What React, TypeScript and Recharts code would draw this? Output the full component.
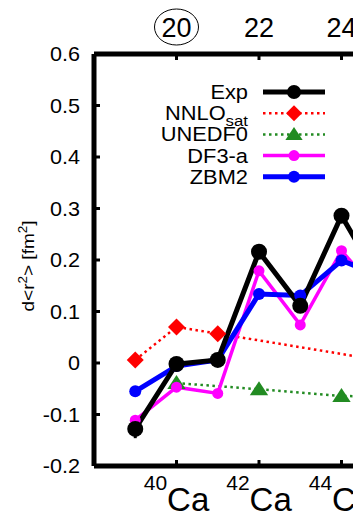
import React from "react";
import {
  LineChart,
  Line,
  XAxis,
  YAxis,
  ErrorBar,
  Legend,
} from "recharts";

const FONT = "'Liberation Sans', Arial, sans-serif";

// neutron number N of the Ca isotopes (last entries continue past the crop)
const neutrons = [19, 20, 21, 22, 23, 24, 25, 28];
const expVals = [-0.128, -0.002, 0.006, 0.216, 0.111, 0.286, 0.148, null];
const expErr = [0.018, 0.005, 0.005, 0.006, 0.006, 0.007, 0.007, null];
const nnloVals = [0.006, 0.07, 0.057, null, null, null, null, -0.035];
const unedfVals = [null, -0.039, null, -0.051, null, -0.064, null, -0.07];
const df3aVals = [-0.111, -0.047, -0.059, 0.179, 0.074, 0.218, 0.127, null];
const zbm2Vals = [-0.055, -0.006, 0.006, 0.134, 0.131, 0.199, 0.168, null];

const topTicks = [20, 22, 24];
const bottomTicks = [20, 22, 24];
const massLabels: Record<number, string> = { 20: "40", 22: "42", 24: "44" };
const yTicks = [-0.2, -0.1, 0, 0.1, 0.2, 0.3, 0.4, 0.5, 0.6];

const data = neutrons.map((n, i) => ({
  n,
  exp: expVals[i],
  expErr: expErr[i],
  nnlo: nnloVals[i],
  unedf: unedfVals[i],
  df3a: df3aVals[i],
  zbm2: zbm2Vals[i],
}));

const diamond = (cx: number, cy: number, s: number, color: string, key?: any) => (
  <path key={key} d={`M${cx},${cy - s}L${cx + s},${cy}L${cx},${cy + s}L${cx - s},${cy}Z`} fill={color} />
);
const triangle = (cx: number, cy: number, s: number, color: string, key?: any) => (
  <path key={key} d={`M${cx},${cy - s}L${cx + s * 1.15},${cy + s * 0.75}L${cx - s * 1.15},${cy + s * 0.75}Z`} fill={color} />
);

const dotFn = (kind: string, color: string, size: number) => (p: any) => {
  const { cx, cy, index } = p;
  if (cx == null || cy == null || p.value == null) return <g key={`d-${index}`} />;
  if (kind === "diamond") return diamond(cx, cy, size, color, `d-${index}`);
  if (kind === "triangle") return triangle(cx, cy, size, color, `d-${index}`);
  return <circle key={`d-${index}`} cx={cx} cy={cy} r={size} fill={color} />;
};

const YTick = (props: any) => {
  const { y, payload } = props;
  const v = Math.round(payload.value * 10) / 10;
  return (
    <text
      transform={`translate(80,${y}) scale(1.08,1)`}
      textAnchor="end"
      dy="0.36em"
      fontSize={20}
      fontFamily={FONT}
      fill="#000"
    >
      {String(v)}
    </text>
  );
};

const TopTick = (props: any) => {
  const { x, payload } = props;
  return (
    <g>
      <text x={x} y={37} textAnchor="middle" fontSize={27} fontFamily={FONT} fill="#000">
        {payload.value}
      </text>
      {payload.value === 20 && (
        <ellipse cx={x} cy={27} rx={22} ry={18} fill="none" stroke="#000" strokeWidth={1} />
      )}
    </g>
  );
};

const BottomTick = (props: any) => {
  const { x, payload } = props;
  return (
    <text x={x} y={511} textAnchor="middle" fontFamily={FONT} fill="#000">
      <tspan fontSize={21} dy={-21}>{massLabels[payload.value]}</tspan>
      <tspan fontSize={33} dy={21}>Ca</tspan>
    </text>
  );
};

const legendRows = [
  { label: "Exp", color: "#000", width: 5, dash: undefined, kind: "circle", size: 7 },
  { label: "NNLO", sub: "sat", color: "#ff0000", width: 2.5, dash: "2.5 3.5", kind: "diamond", size: 8 },
  { label: "UNEDF0", color: "#228B22", width: 2.5, dash: "2.5 3.5", kind: "triangle", size: 7.5 },
  { label: "DF3-a", color: "#ff00ff", width: 3.5, dash: undefined, kind: "circle", size: 5.5 },
  { label: "ZBM2", color: "#0000ff", width: 5, dash: undefined, kind: "circle", size: 6 },
];

const renderLegend = () => (
  <svg width={353} height={200} style={{ display: "block" }}>
    {legendRows.map((r, i) => {
      const y = 92 + i * 21.2;
      return (
        <g key={r.label}>
          <text
            transform={`translate(248,${y}) scale(1.12,1)`}
            textAnchor="end"
            dy="0.36em"
            fontSize={19.5}
            fontFamily={FONT}
            fill="#000"
          >
            {r.label}
            {r.sub && (
              <tspan fontSize={15} dy={6}>
                {r.sub}
              </tspan>
            )}
          </text>
          <line x1={263} x2={325} y1={y} y2={y} stroke={r.color} strokeWidth={r.width} strokeDasharray={r.dash} />
          {r.kind === "diamond"
            ? diamond(294, y, r.size, r.color)
            : r.kind === "triangle"
            ? triangle(294, y, r.size, r.color)
            : <circle cx={294} cy={y} r={r.size} fill={r.color} />}
        </g>
      );
    })}
  </svg>
);

export default function App() {
  return (
    <div
      style={{
        position: "fixed",
        left: 0,
        top: 0,
        width: 353,
        height: 517,
        overflow: "hidden",
        background: "#fff",
      }}
    >
      <LineChart width={600} height={517} data={data} margin={{ top: 0, right: 11, bottom: 0, left: 0 }}>
        <XAxis
          dataKey="n"
          type="number"
          domain={[18, 30]}
          ticks={bottomTicks}
          height={51}
          axisLine={{ stroke: "#000", strokeWidth: 5 }}
          tickLine={{ stroke: "#000", strokeWidth: 3 }}
          tickSize={-6}
          tick={<BottomTick />}
          interval={0}
        />
        <XAxis
          xAxisId="top"
          orientation="top"
          dataKey="n"
          type="number"
          domain={[18, 30]}
          ticks={topTicks}
          height={54}
          axisLine={{ stroke: "#000", strokeWidth: 5 }}
          tickLine={{ stroke: "#000", strokeWidth: 3 }}
          tickSize={-6}
          tick={<TopTick />}
          interval={0}
        />
        <YAxis
          type="number"
          domain={[-0.2, 0.6]}
          ticks={yTicks}
          width={94}
          axisLine={{ stroke: "#000", strokeWidth: 5 }}
          tickLine={{ stroke: "#000", strokeWidth: 3 }}
          tickSize={-6}
          tick={<YTick />}
          interval={0}
          label={{
            value: "",
          }}
        />
        <Legend
          layout="horizontal"
          verticalAlign="middle"
          align="center"
          wrapperStyle={{ position: "absolute", top: 0, left: 0, width: 353, height: 200, pointerEvents: "none" }}
          content={renderLegend}
        />
        <Line
          dataKey="nnlo"
          stroke="#ff0000"
          strokeWidth={2.5}
          strokeDasharray="2.5 3.5"
          connectNulls
          dot={dotFn("diamond", "#ff0000", 8.5)}
          isAnimationActive={false}
        />
        <Line
          dataKey="unedf"
          stroke="#228B22"
          strokeWidth={2.5}
          strokeDasharray="2.5 3.5"
          connectNulls
          dot={dotFn("triangle", "#228B22", 8)}
          isAnimationActive={false}
        />
        <Line
          dataKey="df3a"
          stroke="#ff00ff"
          strokeWidth={3.5}
          connectNulls
          dot={dotFn("circle", "#ff00ff", 5.5)}
          isAnimationActive={false}
        />
        <Line
          dataKey="zbm2"
          stroke="#0000ff"
          strokeWidth={5}
          connectNulls
          dot={dotFn("circle", "#0000ff", 6)}
          isAnimationActive={false}
        />
        <Line
          dataKey="exp"
          stroke="#000"
          strokeWidth={5}
          connectNulls
          dot={dotFn("circle", "#000", 8)}
          isAnimationActive={false}
        >
          <ErrorBar dataKey="expErr" width={0} stroke="#000" strokeWidth={3} direction="y" />
        </Line>
      </LineChart>
      <svg
        width={40}
        height={517}
        style={{ position: "absolute", left: 0, top: 0, pointerEvents: "none" }}
      >
        <text
          transform="translate(34,266) rotate(-90) scale(1.12,1)"
          textAnchor="middle"
          fontSize={17}
          fontFamily={FONT}
          fill="#000"
        >
          d&lt;r
          <tspan fontSize={12} dy={-7}>2</tspan>
          <tspan dy={7}>&gt; [fm</tspan>
          <tspan fontSize={12} dy={-7}>2</tspan>
          <tspan dy={7}>]</tspan>
        </text>
      </svg>
    </div>
  );
}
